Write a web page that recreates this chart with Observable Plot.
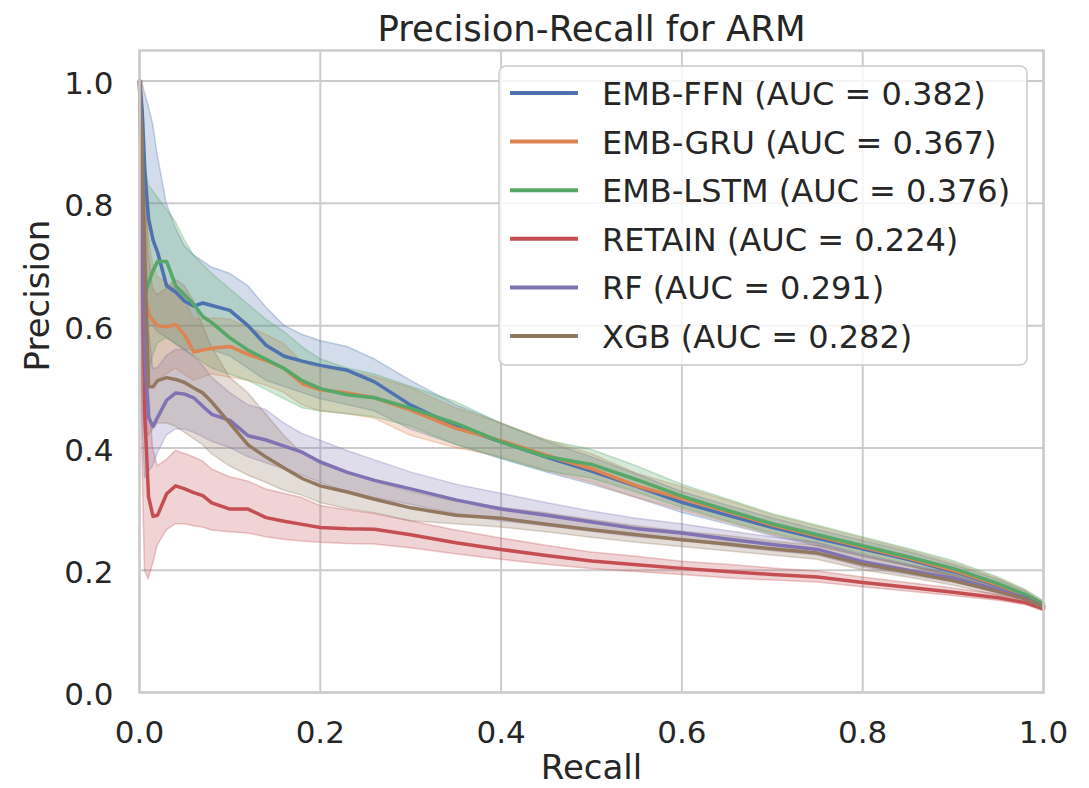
<!DOCTYPE html>
<html>
<head>
<meta charset="utf-8">
<script src="https://cdn.jsdelivr.net/npm/d3@7"></script>
<script src="https://cdn.jsdelivr.net/npm/@observablehq/plot@0.6"></script>
<style>
  html, body { margin: 0; padding: 0; background: #ffffff; }
  #chart { width: 1089px; height: 788px; overflow: hidden; }
</style>
</head>
<body>
<div id="chart"></div>
<script>
// ---------- data ----------
const names = ["EMB-FFN", "EMB-GRU", "EMB-LSTM", "RETAIN", "RF", "XGB"];
const auc = [0.382, 0.367, 0.376, 0.224, 0.291, 0.282];
const colors = ["#4c72b0", "#dd8452", "#55a868", "#c44e52", "#8172b3", "#937860"];
const xTicks = [0, 0.2, 0.4, 0.6, 0.8, 1.0];
const yTicks = [0, 0.2, 0.4, 0.6, 0.8, 1.0];

const recall = [0, 0.003, 0.006, 0.01, 0.015, 0.02, 0.03, 0.04, 0.05, 0.06, 0.07, 0.08, 0.1, 0.12, 0.14, 0.16, 0.18, 0.2, 0.23, 0.26, 0.3, 0.35, 0.4, 0.45, 0.5, 0.55, 0.6, 0.65, 0.7, 0.75, 0.8, 0.85, 0.9, 0.95, 0.98, 1.0];

// EMB-FFN
const ffnMean = [1.0, 0.95, 0.85, 0.775, 0.74, 0.72, 0.665, 0.655, 0.64, 0.632, 0.637, 0.633, 0.625, 0.6, 0.568, 0.55, 0.542, 0.535, 0.527, 0.508, 0.47, 0.435, 0.41, 0.385, 0.362, 0.337, 0.311, 0.29, 0.27, 0.252, 0.235, 0.218, 0.198, 0.175, 0.158, 0.14];
const ffnLo = [1.0, 0.8, 0.62, 0.6, 0.6, 0.59, 0.58, 0.57, 0.56, 0.56, 0.56, 0.56, 0.55, 0.53, 0.51, 0.5, 0.49, 0.48, 0.47, 0.46, 0.43, 0.405, 0.382, 0.36, 0.34, 0.318, 0.294, 0.275, 0.256, 0.239, 0.223, 0.207, 0.189, 0.167, 0.151, 0.136];
const ffnHi = [1.0, 1.0, 0.98, 0.96, 0.93, 0.88, 0.8, 0.76, 0.73, 0.715, 0.705, 0.695, 0.685, 0.665, 0.63, 0.6, 0.585, 0.575, 0.565, 0.545, 0.51, 0.47, 0.44, 0.41, 0.385, 0.357, 0.328, 0.306, 0.285, 0.266, 0.248, 0.23, 0.209, 0.184, 0.165, 0.145];

// EMB-GRU
const gruMean = [1.0, 0.8, 0.65, 0.62, 0.608, 0.6, 0.598, 0.602, 0.585, 0.557, 0.56, 0.563, 0.566, 0.553, 0.543, 0.53, 0.505, 0.495, 0.49, 0.482, 0.462, 0.432, 0.412, 0.388, 0.366, 0.338, 0.317, 0.296, 0.274, 0.256, 0.238, 0.22, 0.2, 0.176, 0.158, 0.142];
const gruLo = [1.0, 0.6, 0.5, 0.5, 0.5, 0.51, 0.52, 0.53, 0.52, 0.51, 0.515, 0.52, 0.515, 0.51, 0.502, 0.49, 0.47, 0.46, 0.455, 0.448, 0.42, 0.4, 0.385, 0.363, 0.343, 0.318, 0.298, 0.278, 0.258, 0.241, 0.224, 0.207, 0.189, 0.167, 0.15, 0.137];
const gruHi = [1.0, 0.95, 0.85, 0.75, 0.7, 0.68, 0.67, 0.66, 0.645, 0.61, 0.61, 0.612, 0.61, 0.597, 0.585, 0.57, 0.54, 0.53, 0.525, 0.516, 0.498, 0.465, 0.44, 0.413, 0.39, 0.358, 0.336, 0.314, 0.29, 0.271, 0.252, 0.233, 0.212, 0.186, 0.166, 0.148];

// EMB-LSTM
const lstmMean = [1.0, 0.8, 0.65, 0.67, 0.69, 0.705, 0.705, 0.665, 0.65, 0.635, 0.615, 0.605, 0.58, 0.56, 0.545, 0.53, 0.51, 0.497, 0.487, 0.482, 0.465, 0.44, 0.41, 0.386, 0.373, 0.348, 0.321, 0.298, 0.276, 0.258, 0.24, 0.222, 0.203, 0.178, 0.16, 0.145];
const lstmLo = [1.0, 0.6, 0.5, 0.52, 0.55, 0.57, 0.58, 0.57, 0.56, 0.55, 0.54, 0.53, 0.52, 0.51, 0.495, 0.48, 0.465, 0.46, 0.455, 0.45, 0.435, 0.405, 0.383, 0.362, 0.35, 0.327, 0.302, 0.28, 0.26, 0.243, 0.226, 0.209, 0.191, 0.168, 0.152, 0.139];
const lstmHi = [1.0, 0.95, 0.87, 0.83, 0.82, 0.81, 0.79, 0.77, 0.74, 0.715, 0.7, 0.685, 0.66, 0.635, 0.61, 0.59, 0.565, 0.545, 0.53, 0.52, 0.5, 0.475, 0.44, 0.412, 0.397, 0.37, 0.34, 0.316, 0.292, 0.273, 0.254, 0.235, 0.215, 0.188, 0.168, 0.15];

// RETAIN
const retainMean = [1.0, 0.75, 0.45, 0.32, 0.288, 0.29, 0.325, 0.338, 0.333, 0.327, 0.322, 0.31, 0.3, 0.3, 0.286, 0.28, 0.275, 0.27, 0.268, 0.267, 0.258, 0.245, 0.234, 0.224, 0.215, 0.209, 0.203, 0.198, 0.193, 0.189, 0.18, 0.172, 0.164, 0.155, 0.147, 0.137];
const retainLo = [1.0, 0.4, 0.2, 0.185, 0.21, 0.24, 0.265, 0.275, 0.275, 0.272, 0.27, 0.265, 0.262, 0.26, 0.254, 0.25, 0.247, 0.245, 0.243, 0.242, 0.236, 0.226, 0.217, 0.209, 0.202, 0.197, 0.192, 0.187, 0.183, 0.18, 0.172, 0.165, 0.158, 0.15, 0.143, 0.133];
const retainHi = [1.0, 0.95, 0.7, 0.5, 0.4, 0.37, 0.38, 0.395, 0.39, 0.385, 0.378, 0.365, 0.352, 0.345, 0.332, 0.325, 0.318, 0.305, 0.298, 0.292, 0.28, 0.265, 0.252, 0.24, 0.229, 0.222, 0.214, 0.209, 0.203, 0.198, 0.188, 0.179, 0.17, 0.16, 0.152, 0.141];

// RF
const rfMean = [1.0, 0.8, 0.55, 0.45, 0.435, 0.45, 0.478, 0.49, 0.488, 0.482, 0.468, 0.455, 0.445, 0.42, 0.413, 0.403, 0.393, 0.377, 0.36, 0.347, 0.333, 0.315, 0.3, 0.29, 0.279, 0.268, 0.261, 0.251, 0.242, 0.234, 0.214, 0.2, 0.187, 0.168, 0.155, 0.14];
const rfLo = [1.0, 0.45, 0.35, 0.36, 0.37, 0.39, 0.42, 0.43, 0.43, 0.425, 0.418, 0.41, 0.4, 0.385, 0.375, 0.365, 0.355, 0.343, 0.328, 0.318, 0.307, 0.292, 0.28, 0.272, 0.263, 0.254, 0.248, 0.239, 0.231, 0.224, 0.205, 0.192, 0.18, 0.162, 0.15, 0.136];
const rfHi = [1.0, 0.98, 0.8, 0.6, 0.53, 0.53, 0.55, 0.56, 0.56, 0.55, 0.535, 0.515, 0.49, 0.47, 0.462, 0.44, 0.423, 0.412, 0.395, 0.38, 0.36, 0.34, 0.325, 0.31, 0.296, 0.284, 0.275, 0.264, 0.254, 0.245, 0.224, 0.209, 0.195, 0.175, 0.161, 0.145];

// XGB
const xgbMean = [1.0, 0.9, 0.7, 0.5, 0.5, 0.51, 0.515, 0.512, 0.507, 0.498, 0.49, 0.475, 0.44, 0.405, 0.385, 0.367, 0.35, 0.338, 0.328, 0.316, 0.302, 0.29, 0.285, 0.275, 0.266, 0.258, 0.25, 0.243, 0.235, 0.228, 0.21, 0.197, 0.183, 0.165, 0.153, 0.14];
const xgbLo = [1.0, 0.5, 0.42, 0.42, 0.43, 0.44, 0.44, 0.435, 0.425, 0.415, 0.405, 0.39, 0.37, 0.355, 0.343, 0.33, 0.322, 0.31, 0.3, 0.293, 0.28, 0.275, 0.27, 0.262, 0.253, 0.245, 0.238, 0.231, 0.224, 0.217, 0.2, 0.188, 0.175, 0.158, 0.147, 0.134];
const xgbHi = [1.0, 1.0, 0.9, 0.72, 0.66, 0.65, 0.66, 0.675, 0.665, 0.64, 0.6, 0.565, 0.515, 0.49, 0.455, 0.42, 0.39, 0.375, 0.36, 0.345, 0.328, 0.312, 0.302, 0.293, 0.282, 0.272, 0.263, 0.256, 0.247, 0.24, 0.222, 0.207, 0.192, 0.172, 0.16, 0.146];

// ---------- build table ----------
const seriesData = [
  [ffnMean, ffnLo, ffnHi],
  [gruMean, gruLo, gruHi],
  [lstmMean, lstmLo, lstmHi],
  [retainMean, retainLo, retainHi],
  [rfMean, rfLo, rfHi],
  [xgbMean, xgbLo, xgbHi]
];
const rows = [];
seriesData.forEach(([m, lo, hi], s) => {
  recall.forEach((r, i) => rows.push({series: names[s], recall: r, mean: m[i], lo: lo[i], hi: hi[i]}));
});

const FONT = "DejaVu Sans, sans-serif";
const INK = "#262626";
const GRID = "#cccccc";
const fmt = d => d.toFixed(1);

const chart = Plot.plot({
  width: 1089,
  height: 788,
  marginLeft: 139,
  marginRight: 46,
  marginTop: 50,
  marginBottom: 96,
  style: {fontFamily: FONT, color: INK, background: "#ffffff", overflow: "visible"},
  x: {domain: [0, 1], ticks: xTicks, tickFormat: fmt, label: null},
  y: {domain: [0, 1.05], ticks: yTicks, tickFormat: fmt, label: null},
  color: {domain: names, range: colors},
  marks: [
    Plot.gridX(xTicks, {stroke: GRID, strokeOpacity: 1, strokeWidth: 2}),
    Plot.gridY(yTicks, {stroke: GRID, strokeOpacity: 1, strokeWidth: 2}),
    Plot.areaY(rows, {x: "recall", y1: "lo", y2: "hi", z: "series", fill: "series", fillOpacity: 0.25,
      stroke: "series", strokeOpacity: 0.3, strokeWidth: 1.5}),
    Plot.lineY(rows, {x: "recall", y: "mean", z: "series", stroke: "series", strokeWidth: 3.5}),
    Plot.frame({stroke: GRID, strokeWidth: 2.5}),
    Plot.axisX(xTicks, {tickSize: 0, tickPadding: 28, fontSize: 31, fill: INK, label: null, tickFormat: fmt}),
    Plot.axisY(yTicks, {tickSize: 0, tickPadding: 26, fontSize: 31, fill: INK, label: null, tickFormat: fmt, dy: 3}),
    Plot.text(["Recall"], {frameAnchor: "bottom", lineAnchor: "middle", dy: 76, fontSize: 34, fill: INK}),
    Plot.text(["Precision"], {frameAnchor: "left", lineAnchor: "middle", dx: -101, rotate: -90, fontSize: 34, fill: INK}),
    Plot.text(["Precision-Recall for ARM"], {frameAnchor: "top", lineAnchor: "middle", dy: -21, fontSize: 35.5, fill: INK})
  ]
});

// ---------- legend (inside the axes, upper right) ----------
const svg = d3.select(chart);
const lg = svg.append("g").attr("font-family", FONT).attr("text-anchor", "start");
lg.append("rect")
  .attr("x", 499).attr("y", 66).attr("width", 528).attr("height", 299)
  .attr("rx", 7).attr("fill", "#ffffff").attr("fill-opacity", 0.8)
  .attr("stroke", GRID).attr("stroke-width", 1.5);
names.forEach((n, i) => {
  const y = 93 + i * 48.6;
  lg.append("line").attr("x1", 510).attr("x2", 578).attr("y1", y).attr("y2", y)
    .attr("stroke", colors[i]).attr("stroke-width", 4);
  lg.append("text").attr("x", 602).attr("y", y + 12).attr("font-size", 32).attr("fill", INK)
    .attr("text-anchor", "start")
    .text(`${n} (AUC = ${auc[i].toFixed(3)})`);
});

document.getElementById("chart").appendChild(chart);
</script>
</body>
</html>
